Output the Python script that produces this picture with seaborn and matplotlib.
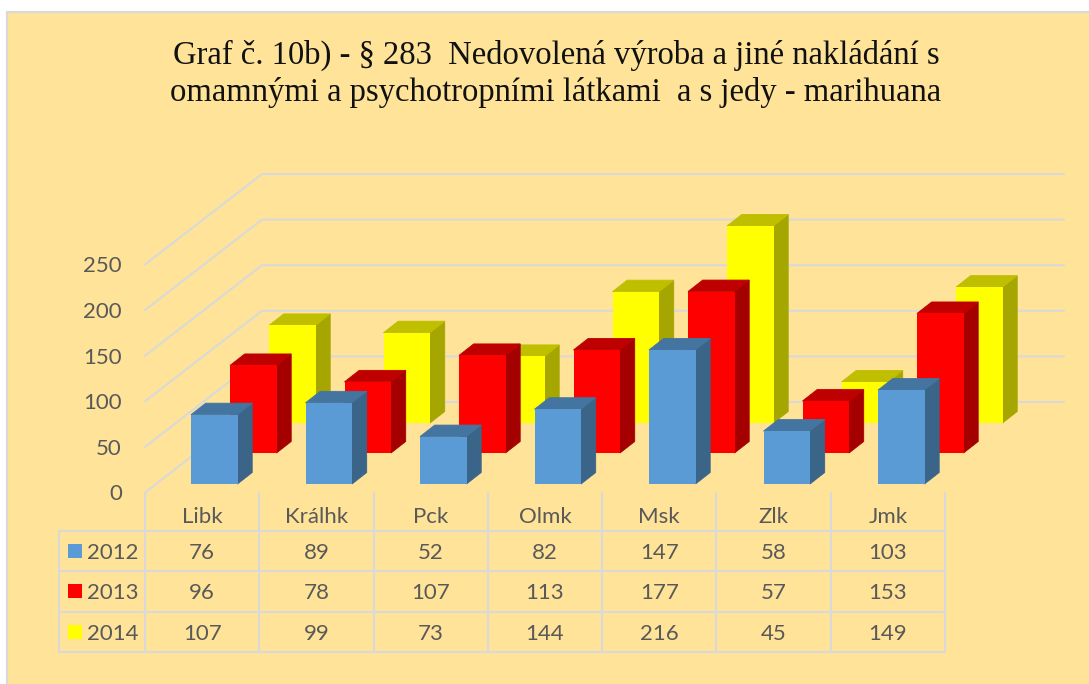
import matplotlib
matplotlib.use("Agg")
import matplotlib.pyplot as plt
from matplotlib.patches import Rectangle
import pandas as pd
import seaborn as sns

categories = ["Libk", "Králhk", "Pck", "Olmk", "Msk", "Zlk", "Jmk"]
years = ["2012", "2013", "2014"]
values_2012 = [76, 89, 52, 82, 147, 58, 103]
values_2013 = [96, 78, 107, 113, 177, 57, 153]
values_2014 = [107, 99, 73, 144, 216, 45, 149]
y_ticks = [0, 50, 100, 150, 200, 250]
title_lines = ["Graf č. 10b) - § 283  Nedovolená výroba a jiné nakládání s",
               "omamnými a psychotropními látkami  a s jedy - marihuana"]

series = {"2012": values_2012, "2013": values_2013, "2014": values_2014}
df = pd.DataFrame([{"cat": c, "year": y, "val": v}
                   for y in years for c, v in zip(categories, series[y])])

W, H = 1089, 684
BG = "#FEE398"
LINE = "#D9D9D9"
TXT = "#595959"
FONT = ["Lato", "DejaVu Sans"]
colors = {"2012": ("#5B9BD5", "#3A6488", "#4474A0"),
          "2013": ("#FF0000", "#A50000", "#BF0000"),
          "2014": ("#FFFF00", "#A6A600", "#BFBF00")}
# left edge of first bar and floor level of every row, in pixels
placement = {"2012": (191, 484), "2013": (230, 453), "2014": (269, 423)}
PITCH, BAR_W = 114.5, 46.5
PX_UNIT = 0.912
DX, DY = 14.7, 11.5

sns.set_style("white")
plt.rcParams["font.family"] = FONT
fig = plt.figure(figsize=(W / 100, H / 100), dpi=100, facecolor="white")

# Pixel-space frame: panel, walls, table
frame = fig.add_axes([0, 0, 1, 1], zorder=0)
frame.set_xlim(0, W)
frame.set_ylim(H, 0)
frame.axis("off")
frame.add_patch(Rectangle((7, 12), W + 10, H, fc=BG, ec=LINE, lw=1.6))

front_x, back_x, end_x = 145, 262, 1064
front_0, back_0 = 492.5, 402
for v in y_ticks:
    h = v * PX_UNIT
    frame.plot([front_x, back_x, end_x], [front_0 - h, back_0 - h, back_0 - h],
               color=LINE, lw=1.5, solid_joinstyle="miter")
    frame.text(122, front_0 - h, str(v), ha="right", va="center_baseline",
               fontsize=16, color=TXT)

# Data table
col_w = (945 - front_x) / len(categories)
rows = [530.5, 571, 611.5, 652]
for i in range(len(categories) + 1):
    x = front_x + i * col_w
    frame.plot([x, x], [front_0, rows[-1]], color=LINE, lw=1.5)
frame.plot([59, 59], [rows[0], rows[-1]], color=LINE, lw=1.5)
for r in rows:
    frame.plot([59, 945], [r, r], color=LINE, lw=1.5)
for i, c in enumerate(categories):
    frame.text(front_x + (i + .5) * col_w, 515, c, ha="center", va="center_baseline",
               fontsize=16, color=TXT)
for k, y in enumerate(years):
    cy = (rows[k] + rows[k + 1]) / 2
    frame.add_patch(Rectangle((68, cy - 7), 13.5, 14, fc=colors[y][0], ec="none"))
    frame.text(87, cy, y, ha="left", va="center_baseline", fontsize=16, color=TXT)
    for i, v in enumerate(series[y]):
        frame.text(front_x + (i + .5) * col_w, cy, str(v), ha="center",
                   va="center_baseline", fontsize=16, color=TXT)

frame.text(556, 74, "\n".join(title_lines), ha="center", va="center",
           family="Liberation Serif", fontsize=23.5, color="#111111", linespacing=1.27)

# Bars: one axes per depth row, back to front
for z, y in enumerate(reversed(years)):
    left, floor = placement[y]
    ax_left = left + BAR_W / 2 - PITCH / 2
    ax_w = PITCH * len(categories)
    ax_h = 250 * PX_UNIT
    ax = fig.add_axes([ax_left / W, (H - floor) / H, ax_w / W, ax_h / H], zorder=1 + z)
    ax.patch.set_alpha(0)
    sns.barplot(data=df[df.year == y], x="cat", y="val", order=categories,
                color=colors[y][0], saturation=1, width=BAR_W / PITCH, ax=ax,
                linewidth=0)
    ax.set_xlim(-.5, len(categories) - .5)
    ax.set_ylim(0, 250)
    ax.axis("off")
    dx, dy = DX / PITCH, DY / PX_UNIT
    for p in list(ax.patches):
        p.set_zorder(3)
        x0, w, t = p.get_x(), p.get_width(), p.get_height()
        x1 = x0 + w
        ax.fill([x1, x1 + dx, x1 + dx, x1], [0, dy, t + dy, t], fc=colors[y][1],
                ec=colors[y][1], lw=0.6, clip_on=False, zorder=2)
        ax.fill([x0, x1, x1 + dx, x0 + dx], [t, t, t + dy, t + dy], fc=colors[y][2],
                ec=colors[y][2], lw=0.6, clip_on=False, zorder=2)

fig.savefig("out.png", dpi=100, facecolor="white")
